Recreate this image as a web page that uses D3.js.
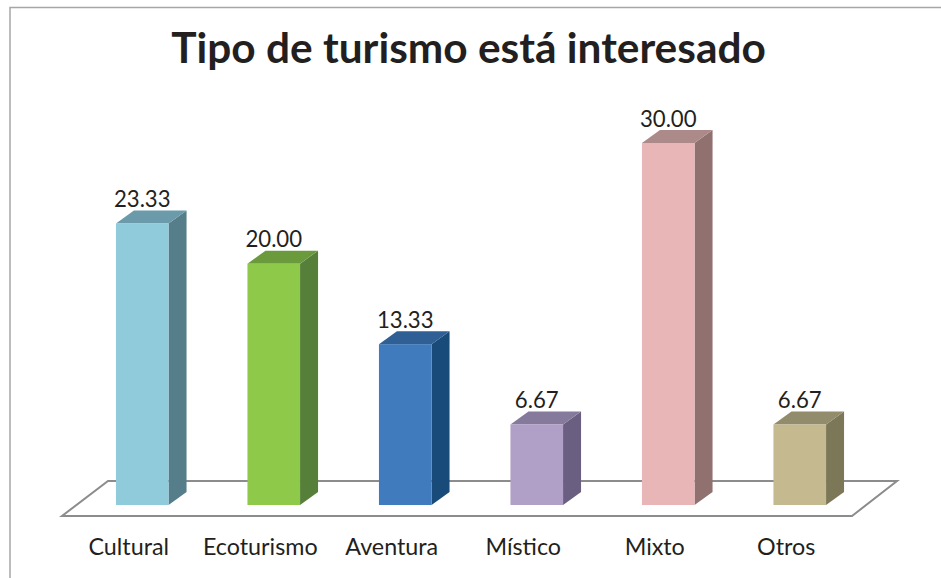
<!DOCTYPE html>
<html><head><meta charset="utf-8">
<script src="https://cdn.jsdelivr.net/npm/d3@7/dist/d3.min.js"></script>
<style>html,body{margin:0;padding:0;background:#fff}svg{display:block}text{font-family:Lato,"Open Sans",sans-serif;fill:#231f20}</style>
</head><body><svg id="c" width="941" height="578"></svg>
<script>
const categories=["Cultural","Ecoturismo","Aventura","Místico","Mixto","Otros"];
const values=[23.33,20.00,13.33,6.67,30.00,6.67];
const labels=["23.33","20.00","13.33","6.67","30.00","6.67"];
const frontColors=["#90cbdc","#8fc94a","#407cbd","#b09fc6","#e8b6b7","#c4b98f"];
const topColors=["#6b9aaa","#6a9a3c","#2f5f95","#857a9b","#ad8a8a","#928c6c"];
const sideColors=["#567e8a","#56803a","#184a7a","#6a5f80","#917070","#7b7757"];
const titleText="Tipo de turismo está interesado";
const svg=d3.select("#c");
const W=941,H=578,depthX=18,depthY=13;
const x=d3.scaleBand().domain(categories).range([76.5,865.5]).paddingInner(0.6).paddingOuter(0.3);
const y=d3.scaleLinear().domain([0,30]).range([505,143]);
const line=d3.line();
// outer frame
svg.append("path").attr("d",line([[10,H],[10,7.5],[W,7.5]])).attr("fill","none").attr("stroke","#a6a6a6").attr("stroke-width",1.5);
// floor
svg.append("path").attr("d",line([[108,481],[897,481],[852,516],[62,516]])+"Z").attr("fill","#fff").attr("stroke","#8c8c8c").attr("stroke-width",2);
// title
svg.append("text").attr("x",468.5).attr("y",63).attr("text-anchor","middle").attr("font-size",42.4).attr("font-weight",700).text(titleText);
const g=svg.selectAll("g.bar").data(categories).join("g").attr("class","bar");
const bw=x.bandwidth();
g.append("path").attr("fill",(d,i)=>sideColors[i]).attr("d",(d,i)=>{const a=x(d)+bw,t=y(values[i]),b=y(0);
 return line([[a,t],[a+depthX,t-depthY],[a+depthX,b-depthY],[a,b]])+"Z";});
g.append("path").attr("fill",(d,i)=>topColors[i]).attr("d",(d,i)=>{const a=x(d),t=y(values[i]);
 return line([[a,t],[a+depthX,t-depthY],[a+bw+depthX,t-depthY],[a+bw,t]])+"Z";});
g.append("rect").attr("x",d=>x(d)).attr("width",bw).attr("y",(d,i)=>y(values[i])).attr("height",(d,i)=>y(0)-y(values[i])).attr("fill",(d,i)=>frontColors[i]);
g.append("text").attr("x",d=>x(d)+bw/2).attr("y",(d,i)=>y(values[i])-16.5).attr("text-anchor","middle").attr("font-size",22.2).text((d,i)=>labels[i]);
g.append("text").attr("x",d=>x(d)+bw/2-13.5).attr("y",555).attr("text-anchor","middle").attr("font-size",23.3).text(d=>d);
</script></body></html>
